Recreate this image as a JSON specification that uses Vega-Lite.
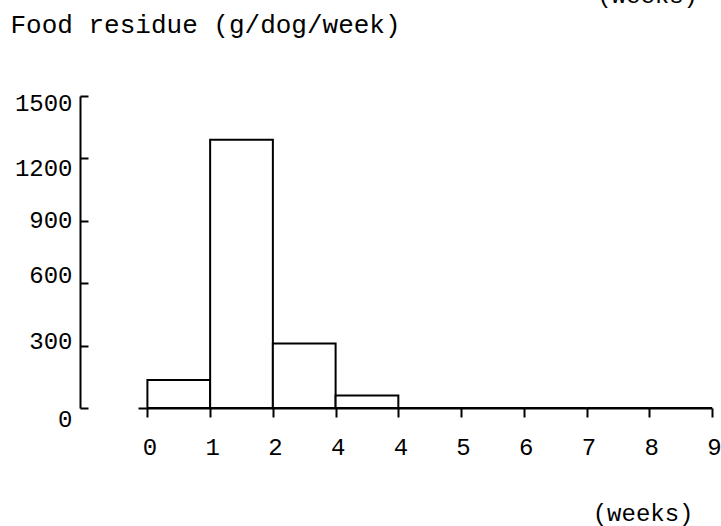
{
  "$schema": "https://vega.github.io/schema/vega-lite/v6.json",
  "width": 574,
  "height": 312,
  "autosize": "none",
  "padding": {"left": 138, "top": 96, "right": 9, "bottom": 118},
  "background": "white",
  "title": {
    "text": "(weeks)",
    "anchor": "end",
    "frame": "group",
    "baseline": "bottom",
    "offset": 2,
    "dx": -14,
    "dy": 23,
    "font": "Liberation Mono",
    "fontSize": 24,
    "fontWeight": "normal",
    "color": "black"
  },
  "data": {
    "values": [
      {"start": 0, "end": 1, "residue": 135},
      {"start": 1, "end": 2, "residue": 1290},
      {"start": 2, "end": 3, "residue": 310},
      {"start": 3, "end": 4, "residue": 60},
      {"start": 4, "end": 5, "residue": 0},
      {"start": 5, "end": 6, "residue": 0},
      {"start": 6, "end": 7, "residue": 0},
      {"start": 7, "end": 8, "residue": 0},
      {"start": 8, "end": 9, "residue": 0}
    ]
  },
  "mark": {"type": "bar", "fill": "white", "stroke": "black", "strokeWidth": 2},
  "encoding": {
    "x": {
      "field": "start",
      "type": "quantitative",
      "scale": {"domain": [-0.15, 9], "nice": false, "zero": false},
      "axis": {
        "values": [0, 1, 2, 3, 4, 5, 6, 7, 8, 9],
        "labelExpr": "['0','1','2','4','4','5','6','7','8','9'][datum.value]",
        "title": "(weeks)",
        "titleX": 555,
        "titleY": 105,
        "titleAlign": "right",
        "titleBaseline": "middle",
        "tickSize": 9,
        "labelPadding": 18,
        "labelOffset": 2
      }
    },
    "x2": {"field": "end"},
    "y": {
      "field": "residue",
      "type": "quantitative",
      "scale": {"domain": [0, 1500], "nice": false},
      "axis": {
        "values": [0, 300, 600, 900, 1200, 1500],
        "format": "d",
        "offset": 58,
        "tickSize": -8,
        "labelPadding": 16,
        "labelOffset": {
          "condition": [
            {"test": "datum.value == 1500", "value": 7},
            {"test": "datum.value == 1200", "value": 10},
            {"test": "datum.value == 600", "value": -8},
            {"test": "datum.value == 300", "value": -4},
            {"test": "datum.value == 0", "value": 11}
          ],
          "value": 0
        },
        "title": "Food residue (g/dog/week)",
        "titleAngle": 0,
        "titleAlign": "left",
        "titleBaseline": "alphabetic",
        "titleX": -70,
        "titleY": -64,
        "titleFontSize": 26
      }
    },
    "y2": {"datum": 0}
  },
  "config": {
    "view": {"stroke": null},
    "axis": {
      "grid": false,
      "domainColor": "black",
      "domainWidth": 2,
      "tickColor": "black",
      "tickWidth": 2,
      "labelFont": "Liberation Mono",
      "labelFontSize": 24,
      "labelColor": "black",
      "labelFlush": false,
      "labelOverlap": false,
      "titleFont": "Liberation Mono",
      "titleFontSize": 24,
      "titleFontWeight": "normal",
      "titleColor": "black"
    }
  }
}
